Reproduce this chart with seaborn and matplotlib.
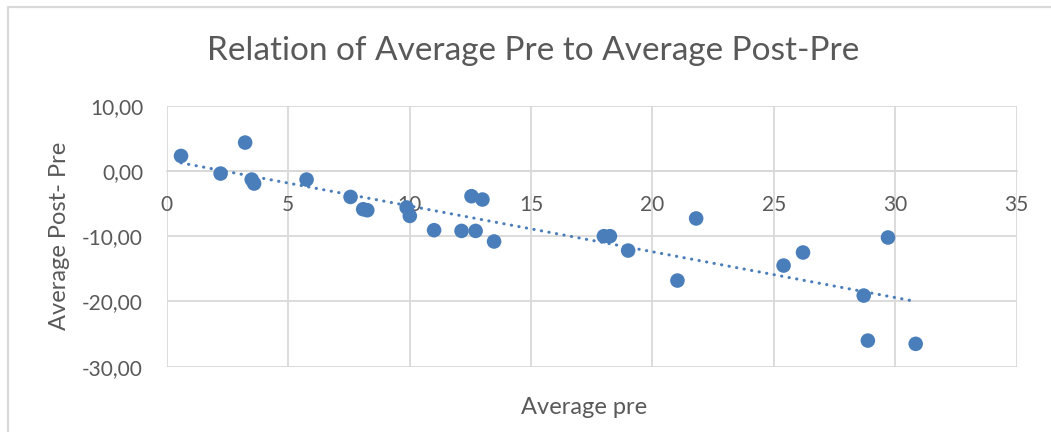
import numpy as np
import pandas as pd
import seaborn as sns
import matplotlib.pyplot as plt
from matplotlib.lines import Line2D

# values
avg_pre = [0.59, 2.22, 3.23, 3.50, 3.60, 5.76, 7.57, 8.09, 8.26, 9.88, 10.01,
           11.01, 12.14, 12.55, 12.72, 13.00, 13.48, 18.00, 18.25, 19.00,
           21.03, 21.80, 25.40, 26.20, 28.70, 28.87, 29.70, 30.84]
avg_post_pre = [2.30, -0.40, 4.35, -1.32, -1.93, -1.32, -3.98, -5.87, -6.02,
                -5.60, -6.89, -9.08, -9.19, -3.87, -9.19, -4.38, -10.81,
                -10.0, -10.0, -12.2, -16.8, -7.28, -14.5, -12.5, -19.1,
                -26.0, -10.2, -26.5]

xticks = [0, 5, 10, 15, 20, 25, 30, 35]
yticks = [-30, -20, -10, 0, 10]
ytick_labels = ["-30,00", "-20,00", "-10,00", "0,00", "10,00"]

df = pd.DataFrame({"pre": avg_pre, "diff": avg_post_pre})

blue = "#4A7EBB"
grid = "#D9D9D9"
txt = "#595959"

sns.set_style("white")
plt.rcParams["font.family"] = ["Lato", "DejaVu Sans"]

fig = plt.figure(figsize=(10.51, 4.32), dpi=100)
ax = fig.add_axes([0.1586, 0.1512, 0.8088, 0.6041])

# trendline (linear fit) then points
sns.regplot(data=df, x="pre", y="diff", ax=ax, scatter=False, ci=None,
            line_kws=dict(color=blue, lw=2.2, linestyle=(0, (0.1, 2.4)),
                          dash_capstyle="round", zorder=3))
sns.scatterplot(data=df, x="pre", y="diff", ax=ax, color=blue, s=110,
                edgecolor="none", zorder=4)

ax.set_xlim(0, 35)
ax.set_ylim(-30, 10)
ax.set_xticks(xticks)
ax.set_yticks(yticks)
ax.set_yticklabels(ytick_labels)
ax.grid(True, color=grid, lw=1.3)
ax.set_axisbelow(True)
for s in ["top", "right", "left"]:
    ax.spines[s].set_visible(False)
ax.spines["bottom"].set_position(("data", 0))
ax.spines["bottom"].set_color(grid)
ax.spines["bottom"].set_linewidth(1.3)
ax.tick_params(length=0, labelsize=15, labelcolor=txt, pad=17)

ax.set_xlabel("")
ax.set_ylabel("")
fig.text(584 / 1051, 1 - 408 / 432, "Average pre", ha="center", va="center",
         fontsize=17, color=txt)
fig.text(60 / 1051, 1 - 236 / 432, "Average Post- Pre", ha="center",
         va="center", rotation=90, fontsize=17, color=txt)
fig.text(533 / 1051, 1 - 51 / 432, "Relation of Average Pre to Average Post-Pre",
         ha="center", va="center", fontsize=24, color=txt)

# outer chart border (only top and left visible in the crop)
fig.add_artist(Line2D([7.5 / 1051, 7.5 / 1051], [0, 1 - 6.5 / 432],
                      transform=fig.transFigure, color=grid, lw=1.6))
fig.add_artist(Line2D([7.5 / 1051, 1], [1 - 6.5 / 432, 1 - 6.5 / 432],
                      transform=fig.transFigure, color=grid, lw=1.6))

fig.savefig("out.png", dpi=100)
